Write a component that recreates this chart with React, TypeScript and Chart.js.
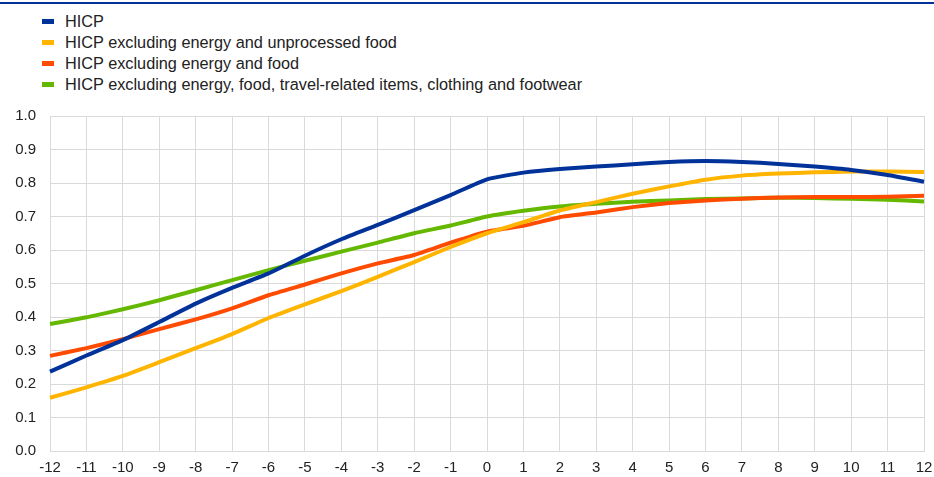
import React, { useEffect, useRef } from "react";
import { Chart, registerables } from "chart.js";

Chart.register(...registerables);

const months = ["-12","-11","-10","-9","-8","-7","-6","-5","-4","-3","-2","-1","0","1","2","3","4","5","6","7","8","9","10","11","12"];

const hicp = [0.237,0.285,0.331,0.385,0.44,0.487,0.53,0.583,0.632,0.675,0.719,0.764,0.811,0.831,0.842,0.849,0.856,0.863,0.866,0.863,0.857,0.849,0.839,0.824,0.804];
const exEnergyUnprocFood = [0.159,0.19,0.224,0.265,0.307,0.349,0.397,0.438,0.477,0.52,0.564,0.609,0.65,0.683,0.718,0.743,0.768,0.79,0.81,0.822,0.828,0.832,0.834,0.834,0.833];
const exEnergyFood = [0.284,0.307,0.334,0.364,0.393,0.426,0.465,0.497,0.53,0.56,0.585,0.622,0.655,0.672,0.698,0.712,0.728,0.74,0.748,0.753,0.757,0.758,0.758,0.759,0.762];
const exEnergyFoodTravel = [0.379,0.399,0.423,0.45,0.48,0.51,0.54,0.568,0.595,0.622,0.65,0.673,0.7,0.717,0.73,0.738,0.744,0.748,0.752,0.754,0.756,0.755,0.753,0.75,0.745];

const seriesNames = [
  "HICP",
  "HICP excluding energy and unprocessed food",
  "HICP excluding energy and food",
  "HICP excluding energy, food, travel-related items, clothing and footwear",
];
const colors = ["#003299", "#FFB400", "#FF4B00", "#65B800"];

const FONT = "Arial, 'Liberation Sans', sans-serif";

export default function App() {
  const ref = useRef<HTMLCanvasElement | null>(null);
  useEffect(() => {
    if (!ref.current) return;
    const data = [hicp, exEnergyUnprocFood, exEnergyFood, exEnergyFoodTravel];
    const chart = new Chart(ref.current, {
      type: "line",
      data: {
        labels: months,
        datasets: data.map((d, i) => ({
          label: seriesNames[i],
          data: d,
          borderColor: colors[i],
          backgroundColor: colors[i],
          borderWidth: 4,
          pointRadius: 0,
          tension: 0.15,
          fill: false,
        })),
      },
      options: {
        animation: false,
        responsive: false,
        maintainAspectRatio: false,
        layout: { padding: { top: 116, right: 10, left: 0, bottom: 0 } },
        plugins: { legend: { display: false }, tooltip: { enabled: false } },
        scales: {
          x: {
            grid: { color: "#d9d9d9", lineWidth: 1, drawTicks: false, offset: false },
            border: { color: "#d9d9d9" },
            ticks: { color: "#222", font: { family: FONT, size: 15 }, padding: 8, maxRotation: 0, autoSkip: false },
            afterFit: (s: any) => { s.height = 26; s.paddingRight = 0; s.paddingLeft = 0; },
          },
          y: {
            min: 0,
            max: 1,
            grid: { color: "#d9d9d9", lineWidth: 1, drawTicks: false },
            border: { color: "#d9d9d9" },
            ticks: {
              stepSize: 0.1,
              color: "#222",
              font: { family: FONT, size: 15 },
              padding: 14,
              callback: (v: any) => Number(v).toFixed(1),
            },
            afterFit: (s: any) => { s.width = 50; s.paddingTop = 0; s.paddingBottom = 0; },
          },
        },
      },
    });
    return () => chart.destroy();
  }, []);

  return (
    <div style={{ position: "absolute", left: 0, top: 0, width: 934, height: 477, background: "#fff", overflow: "hidden" }}>
      <div style={{ position: "absolute", left: 0, top: 2, width: 934, height: 2, background: "#003299" }} />
      {seriesNames.map((n, i) => (
        <div key={n} style={{ position: "absolute", left: 42, top: 11 + i * 21.3, height: 20, display: "flex", alignItems: "center", fontFamily: FONT, fontSize: 16.3, color: "#222", whiteSpace: "nowrap" }}>
          <span style={{ display: "inline-block", width: 12, height: 5, background: colors[i], marginRight: 11 }} />
          <span>{n}</span>
        </div>
      ))}
      <canvas ref={ref} width={934} height={477} style={{ position: "absolute", left: 0, top: 0 }} />
    </div>
  );
}
